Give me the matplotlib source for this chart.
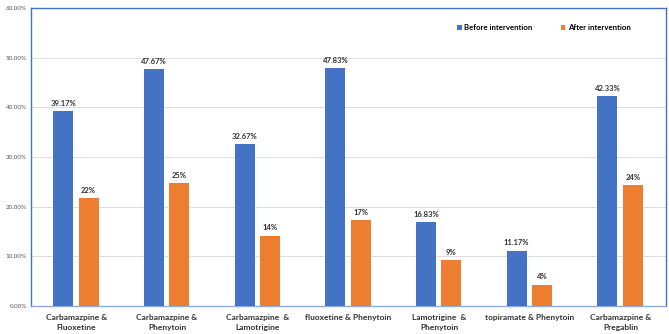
import matplotlib
matplotlib.use("Agg")
import matplotlib.pyplot as plt
import numpy as np

categories = ["Carbamazpine &\nFluoxetine", "Carbamazpine &\nPhenytoin", "Carbamazpine  &\nLamotrigine",
              "fluoxetine & Phenytoin", "Lamotrigine  &\nPhenytoin", "topiramate & Phenytoin",
              "Carbamazpine &\nPregablin"]
before = [39.17, 47.67, 32.67, 47.83, 16.83, 11.17, 42.33]
after = [21.67, 24.67, 14.17, 17.33, 9.17, 4.33, 24.33]
before_labels = ["39.17%", "47.67%", "32.67%", "47.83%", "16.83%", "11.17%", "42.33%"]
after_labels = ["22%", "25%", "14%", "17%", "9%", "4%", "24%"]
yticks = [0, 10, 20, 30, 40, 50, 60]

plt.rcParams['font.family'] = ['Lato', 'DejaVu Sans']
blue = "#4472C4"
orange = "#ED7D31"

fig = plt.figure(figsize=(6.69, 3.34), dpi=100)
ax = fig.add_axes([0.0463, 0.0838, 0.9492, 0.8922])

x = np.arange(len(categories))
w = 0.22
ax.bar(x - 0.145, before, w, color=blue, label="Before intervention", zorder=3)
ax.bar(x + 0.135, after, w, color=orange, label="After intervention", zorder=3)

for xi, v, t in zip(x, before, before_labels):
    ax.annotate(t, (xi - 0.145, v), xytext=(0, 3), textcoords="offset points",
                ha="center", va="bottom", fontsize=5.5, fontweight="bold", color="#333333")
for xi, v, t in zip(x, after, after_labels):
    ax.annotate(t, (xi + 0.135, v), xytext=(0, 3), textcoords="offset points",
                ha="center", va="bottom", fontsize=5.5, fontweight="bold", color="#333333")

ax.set_xlim(-0.5, len(categories) - 0.5)
ax.set_ylim(0, 60)
ax.set_yticks(yticks)
ax.set_yticklabels([f"{v:.2f}%" for v in yticks], fontsize=4.5, color="#555555")
ax.set_xticks(x)
ax.set_xticklabels(categories, fontsize=6, fontweight="bold", color="#333333", linespacing=1.6)
ax.tick_params(axis="both", length=0, pad=3)
ax.tick_params(axis="x", pad=5.5)
ax.grid(axis="y", color="#D9D9D9", linewidth=0.6, zorder=0)
for s in ax.spines.values():
    s.set_color(blue)
    s.set_linewidth(1.0)
ax.spines["bottom"].set_color("#8FAADC")

ax.legend(loc="upper right", bbox_to_anchor=(0.955, 0.97), ncol=2, frameon=False,
          handlelength=0.6, handleheight=0.6, columnspacing=3.6,
          handletextpad=0.3, prop={'weight': 'bold', 'size': 5.6})

fig.savefig("out.png", dpi=100)
